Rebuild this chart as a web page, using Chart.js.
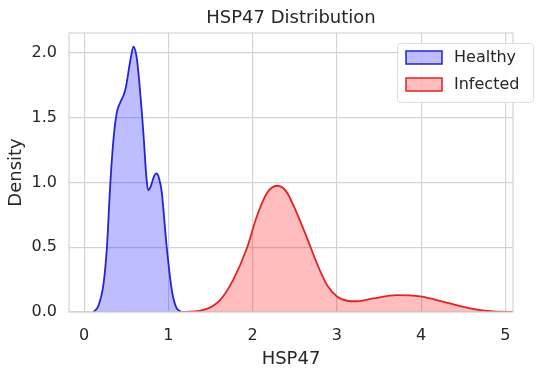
<!DOCTYPE html>
<html>
<head>
<meta charset="utf-8">
<title>HSP47 Distribution</title>
<script src="https://cdn.jsdelivr.net/npm/chart.js"></script>
<style>
  html, body { margin: 0; padding: 0; background: #ffffff; }
  #wrap { width: 550px; height: 374px; position: relative; }
</style>
</head>
<body>
<div id="wrap"><canvas id="kde"></canvas></div>
<script>
// density curves
const healthyX = [0.11, 0.17, 0.23, 0.27, 0.31, 0.35, 0.39, 0.43, 0.49, 0.55, 0.585, 0.62, 0.645, 0.70, 0.74, 0.76, 0.79, 0.83, 0.86, 0.89, 0.92, 0.98, 1.04, 1.09, 1.15];
const healthyY = [0.0, 0.05, 0.22, 0.50, 0.99, 1.35, 1.55, 1.62, 1.72, 1.95, 2.05, 1.98, 1.84, 1.41, 1.03, 0.94, 0.97, 1.05, 1.07, 1.03, 0.93, 0.50, 0.17, 0.04, 0.0];

const infectedX = [1.14, 1.38, 1.61, 1.77, 1.93, 2.05, 2.17, 2.29, 2.40, 2.52, 2.64, 2.76, 2.88, 3.00, 3.12, 3.24, 3.43, 3.71, 3.99, 4.30, 4.58, 4.86, 5.12];
const infectedY = [0.0, 0.01, 0.09, 0.25, 0.49, 0.74, 0.92, 0.975, 0.93, 0.77, 0.58, 0.38, 0.21, 0.12, 0.087, 0.083, 0.105, 0.13, 0.12, 0.072, 0.028, 0.004, 0.0];

const seriesNames = ['Healthy', 'Infected'];
const xTicks = [0, 1, 2, 3, 4, 5];
const yTicks = [0.0, 0.5, 1.0, 1.5, 2.0];
const chartTitle = 'HSP47 Distribution';

const FONT = "'DejaVu Sans', sans-serif";
const INK = '#262626';
const GRID = '#d4d4d4';

function toPoints(xs, ys) {
  return xs.map((x, i) => ({x: x, y: ys[i]}));
}

// frame round the plot area, like the seaborn whitegrid spines,
// plus the title centred over the plot area (not the canvas)
const framePlugin = {
  id: 'frame',
  afterDraw(chart) {
    const a = chart.chartArea, ctx = chart.ctx;
    ctx.save();
    ctx.strokeStyle = GRID;
    ctx.lineWidth = 1.2;
    ctx.strokeRect(a.left, a.top, a.right - a.left, a.bottom - a.top);
    ctx.fillStyle = INK;
    ctx.font = '18px ' + FONT;
    ctx.textAlign = 'center';
    ctx.textBaseline = 'middle';
    ctx.fillText(chartTitle, (a.left + a.right) / 2, 18);
    ctx.restore();
  }
};

// boxed legend in the upper right corner of the plot
const boxLegend = {
  id: 'boxLegend',
  afterDraw(chart) {
    const ctx = chart.ctx;
    const x0 = 397, y0 = 43, w = 136, h = 59;
    ctx.save();
    ctx.fillStyle = 'rgba(255,255,255,0.85)';
    ctx.strokeStyle = '#dcdcdc';
    ctx.lineWidth = 1;
    ctx.beginPath();
    ctx.roundRect(x0 + 0.5, y0 + 0.5, w, h, 3);
    ctx.fill();
    ctx.stroke();
    chart.data.datasets.forEach((ds, i) => {
      const sy = y0 + 8 + i * 27;
      ctx.fillStyle = ds.backgroundColor;
      ctx.fillRect(406, sy, 36, 13);
      ctx.strokeStyle = ds.borderColor;
      ctx.lineWidth = 1.5;
      ctx.strokeRect(406, sy, 36, 13);
      ctx.fillStyle = INK;
      ctx.font = '16px ' + FONT;
      ctx.textBaseline = 'middle';
      ctx.fillText(ds.label, 454, sy + 7);
    });
    ctx.restore();
  }
};

const data = {
  datasets: [{
    label: seriesNames[0],
    data: toPoints(healthyX, healthyY),
    borderColor: '#2424d4',
    backgroundColor: 'rgba(0,0,255,0.26)',
    borderWidth: 1.8,
    fill: 'origin',
    pointRadius: 0,
    cubicInterpolationMode: 'monotone'
  }, {
    label: seriesNames[1],
    data: toPoints(infectedX, infectedY),
    borderColor: '#e02424',
    backgroundColor: 'rgba(255,0,0,0.26)',
    borderWidth: 1.8,
    fill: 'origin',
    pointRadius: 0,
    cubicInterpolationMode: 'monotone'
  }]
};

const config = {
  type: 'line',
  data,
  options: {
    responsive: true,
    maintainAspectRatio: false,
    animation: false,
    layout: { padding: { left: 0, right: 37, top: 33, bottom: 0 } },
    plugins: {
      legend: { display: false },
      tooltip: { enabled: false },
      title: { display: false }
    },
    scales: {
      x: {
        type: 'linear',
        min: -0.18,
        max: 5.09,
        afterFit(scale) { scale.height = 62; },
        afterBuildTicks(scale) { scale.ticks = xTicks.map(v => ({value: v})); },
        grid: { color: GRID, lineWidth: 1.2, drawTicks: false },
        border: { display: false },
        ticks: {
          color: INK,
          font: { family: FONT, size: 16 },
          padding: 14,
          callback: v => String(v)
        },
        title: {
          display: true,
          text: 'HSP47',
          color: INK,
          font: { family: FONT, size: 18 },
          padding: { top: 0, bottom: 4 }
        }
      },
      y: {
        min: 0,
        max: 2.155,
        afterFit(scale) { scale.width = 69; },
        afterBuildTicks(scale) { scale.ticks = yTicks.map(v => ({value: v})); },
        grid: { color: GRID, lineWidth: 1.2, drawTicks: false },
        border: { display: false },
        ticks: {
          color: INK,
          font: { family: FONT, size: 16 },
          padding: 12,
          callback: v => Number(v).toFixed(1)
        },
        title: {
          display: true,
          text: 'Density',
          color: INK,
          font: { family: FONT, size: 18 },
          padding: { top: 6, bottom: 0 }
        }
      }
    }
  },
  plugins: [framePlugin, boxLegend]
};

new Chart(document.getElementById('kde'), config);
</script>
</body>
</html>
